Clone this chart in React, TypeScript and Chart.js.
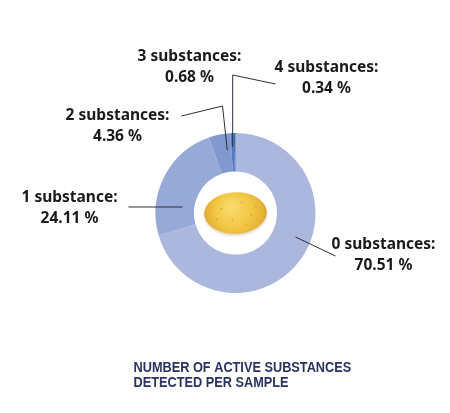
import React, { useEffect, useRef } from "react";
import { Chart, registerables } from "chart.js";

Chart.register(...registerables);

const categories = ["0 substances", "1 substance", "2 substances", "3 substances", "4 substances"];
const shares = [70.51, 24.11, 4.36, 0.68, 0.34];
const valueLabels = ["70.51 %", "24.11 %", "4.36 %", "0.68 %", "0.34 %"];
const sliceColors = ["#abb7dd", "#97a9d6", "#8299cf", "#5478c2", "#3b67b8"];
const titleLines = ["NUMBER OF ACTIVE SUBSTANCES", "DETECTED PER SAMPLE"];

// label placement relative to the doughnut centre (dx, dy of first-line baseline)
const labelOffsets = [
  { dx: 148, dy: 36 },
  { dx: -166, dy: -11 },
  { dx: -118, dy: -93 },
  { dx: -46, dy: -152 },
  { dx: 91, dy: -141 },
];

const calloutPlugin = {
  id: "callouts",
  afterDatasetsDraw(chart: any) {
    const ctx = chart.ctx;
    const meta = chart.getDatasetMeta(0);
    const arc0 = meta.data[0];
    const cx = arc0.x;
    const cy = arc0.y;
    const outer = arc0.outerRadius;
    const inner = arc0.innerRadius;

    // potato in the centre
    ctx.save();
    const rx = inner * 0.75;
    const ry = inner * 0.5;
    ctx.shadowColor = "rgba(120,90,20,0.3)";
    ctx.shadowBlur = 3;
    ctx.shadowOffsetY = 1.5;
    const g = ctx.createRadialGradient(cx - rx * 0.15, cy - ry * 0.3, 2, cx, cy, rx * 1.05);
    g.addColorStop(0, "#f8da6a");
    g.addColorStop(0.5, "#f3c846");
    g.addColorStop(0.85, "#e6b236");
    g.addColorStop(1, "#d29a26");
    ctx.fillStyle = g;
    ctx.beginPath();
    ctx.ellipse(cx, cy, rx, ry, -0.04, 0, Math.PI * 2);
    ctx.fill();
    ctx.shadowColor = "transparent";
    ctx.fillStyle = "rgba(170,120,40,0.5)";
    const spots = [
      [-0.45, -0.2], [0.2, -0.5], [0.5, 0.1], [-0.1, 0.35], [0.35, 0.55], [-0.6, 0.3], [0.65, -0.3],
    ];
    spots.forEach(([sx, sy]) => {
      ctx.beginPath();
      ctx.arc(cx + sx * rx, cy + sy * ry, 0.8, 0, Math.PI * 2);
      ctx.fill();
    });
    ctx.restore();

    // leader lines
    const mid = (i: number, r: number) => {
      const a = meta.data[i];
      const ang = (a.startAngle + a.endAngle) / 2;
      return { x: cx + Math.cos(ang) * r, y: cy + Math.sin(ang) * r };
    };
    ctx.save();
    ctx.strokeStyle = "#2a2f3a";
    ctx.lineWidth = 1;
    const rMid = (outer + inner) / 2;
    // 0 substances
    {
      ctx.beginPath();
      ctx.moveTo(cx + 60, cy + 24);
      ctx.lineTo(cx + 100, cy + 43);
      ctx.stroke();
    }
    // 1 substance
    {
      const p = mid(1, rMid);
      ctx.beginPath();
      ctx.moveTo(p.x + 1, cy - 6);
      ctx.lineTo(cx - 107, cy - 6);
      ctx.stroke();
    }
    // 2 substances
    {
      const p = mid(2, outer - 14);
      ctx.beginPath();
      ctx.moveTo(p.x + 5, p.y + 2);
      ctx.lineTo(cx - 13, cy - 107);
      ctx.lineTo(cx - 54, cy - 97);
      ctx.stroke();
    }
    // 4 substances (line runs through the thin slices)
    {
      const p = mid(3, outer - 14);
      ctx.beginPath();
      ctx.moveTo(p.x, p.y);
      ctx.lineTo(p.x, cy - 138);
      ctx.lineTo(cx + 40, cy - 129);
      ctx.stroke();
    }
    ctx.restore();

    // labels
    ctx.save();
    ctx.fillStyle = "#1a1a1a";
    ctx.textAlign = "center";
    ctx.textBaseline = "alphabetic";
    ctx.font = "bold 15.5px 'Noto Sans'";
    categories.forEach((c, i) => {
      const o = labelOffsets[i];
      ctx.fillText(c + ":", cx + o.dx, cy + o.dy);
      ctx.fillText(valueLabels[i], cx + o.dx, cy + o.dy + 20.5);
    });
    ctx.restore();

    // title (condensed)
    ctx.save();
    ctx.fillStyle = "#2a3360";
    ctx.textAlign = "left";
    ctx.font = "bold 14px 'Liberation Sans', sans-serif";
    const tx = cx - 102;
    ctx.translate(tx, 0);
    ctx.scale(0.91, 1);
    titleLines.forEach((t, i) => {
      ctx.fillText(t, 0, cy + 158.5 + i * 15);
    });
    ctx.restore();
  },
};

export default function App() {
  const ref = useRef<HTMLCanvasElement>(null);
  useEffect(() => {
    document.body.style.margin = "0";
    const chart = new Chart(ref.current!, {
      type: "doughnut",
      data: {
        labels: categories,
        datasets: [
          {
            data: shares,
            backgroundColor: sliceColors,
            borderWidth: 0,
          },
        ],
      },
      options: {
        responsive: false,
        animation: false,
        cutout: "52%",
        layout: { padding: { top: 133, bottom: 120, left: 155.5, right: 134.5 } },
        plugins: {
          legend: { display: false },
          tooltip: { enabled: false },
          title: { display: false },
        },
      },
      plugins: [calloutPlugin],
    });
    return () => chart.destroy();
  }, []);
  return <canvas ref={ref} width={450} height={413} style={{ display: "block" }} />;
}
